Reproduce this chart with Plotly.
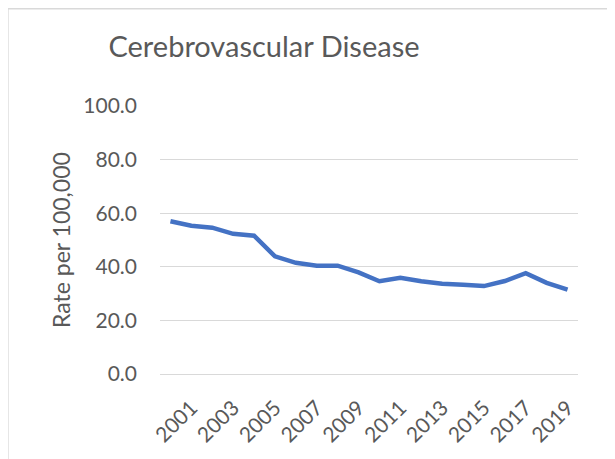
import plotly.graph_objects as go

# Cerebrovascular disease death rate
years = [str(y) for y in range(2000, 2020)]
rates = [57.0, 55.3, 54.6, 52.3, 51.6, 43.9, 41.5, 40.4, 40.4, 37.9,
         34.6, 35.9, 34.6, 33.7, 33.3, 32.8, 34.7, 37.6, 34.0, 31.5]
x_ticks = [str(y) for y in range(2001, 2020, 2)]
y_ticks = [0, 20, 40, 60, 80, 100]
y_tick_labels = ['0.0', '20.0', '40.0', '60.0', '80.0', '100.0']

FONT = 'Lato'
GREY = '#595959'

# page body has an 8px margin, so the figure is sized to fit
W, H = 607, 451
L, T, PW, PH = 152, 98, 418, 270

fig = go.Figure()
fig.add_trace(go.Scatter(
    x=years, y=rates, mode='lines',
    line=dict(color='#4472C4', width=4.5),
    hovertemplate='%{x}: %{y:.1f}<extra></extra>'
))

fig.update_layout(
    width=W, height=H,
    margin=dict(l=L, r=W - L - PW, t=T, b=H - T - PH),
    paper_bgcolor='white', plot_bgcolor='white',
    font=dict(family=FONT, size=21, color=GREY),
    showlegend=False,
    title=dict(text='Cerebrovascular Disease', x=256 / W, xanchor='center',
               y=1 - 39 / H, yanchor='middle', yref='container',
               font=dict(family=FONT, size=29, color=GREY)),
    xaxis=dict(type='category', range=[-0.5, 19.5],
               tickmode='array', tickvals=x_ticks, ticktext=x_ticks,
               tickangle=-45, showgrid=False, zeroline=False,
               showline=True, linecolor='#D9D9D9', linewidth=1.3,
               ticks='', ticklabelstandoff=12),
    yaxis=dict(range=[0, 100], tickmode='array', tickvals=y_ticks,
               ticktext=y_tick_labels, showgrid=True, gridcolor='#D9D9D9',
               gridwidth=1.3, zeroline=False, showline=False, ticks='',
               ticklabelstandoff=22),
)

# axis title placed by hand, like the Excel chart
fig.add_annotation(text='Rate per 100,000', textangle=-90,
                   xref='paper', yref='paper', x=(53 - L) / PW, y=0.5,
                   xanchor='center', yanchor='middle', showarrow=False,
                   font=dict(family=FONT, size=23, color=GREY))

# chart frame
fig.add_shape(type='rect', xref='paper', yref='paper',
              x0=(0 - L) / PW, x1=(604.5 - L) / PW,
              y0=(T + PH - H - 20) / PH, y1=(T + PH) / PH,
              line=dict(color='#D9D9D9', width=1.3), layer='below')

fig.write_html('out.html')
